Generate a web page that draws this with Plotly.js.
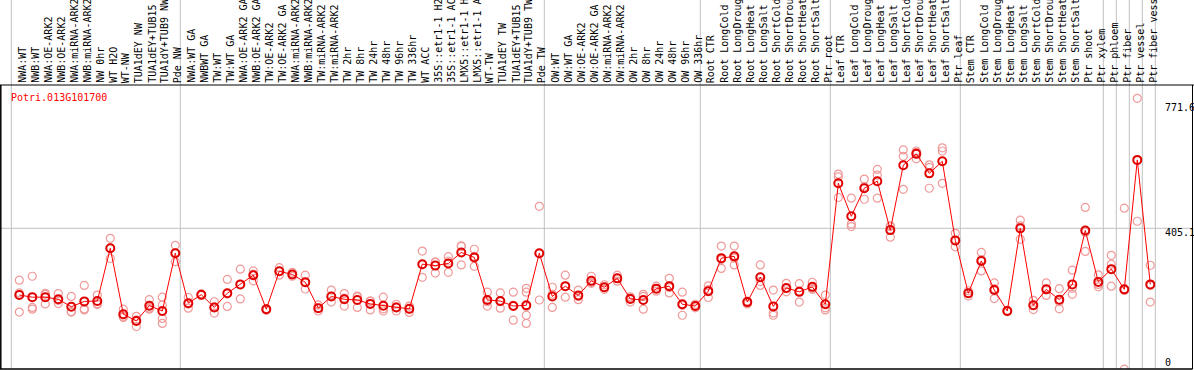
<!DOCTYPE html>
<html>
<head>
<meta charset="utf-8">
<script src="https://cdn.plot.ly/plotly-3.0.1.min.js"></script>
<style>html,body{margin:0;padding:0;background:#fff;}#chart{width:1194px;height:370px;}</style>
</head>
<body>
<div id="chart"></div>
<script>
const geneId = "Potri.013G101700";

const categories = [
  "NWA:WT","NWB:WT","NWA:OE-ARK2","NWB:OE-ARK2","NWA:miRNA-ARK2","NWB:miRNA-ARK2","NW 0hr","WT H2O","WT-NW","TUA1dEY NW","TUA1dEY+TUB15 NW","TUA1dY+TUB9 NW","Pde NW",
  "NWA:WT GA","NWBWT GA","TW:WT","TW:WT GA","NWA:OE-ARK2 GA","NWB:OE-ARK2 GA","TW:OE-ARK2","TW:OE-ARK2 GA","NWA:miRNA-ARK2 GA","NWB:miRNA-ARK2 GA","TW:miRNA-ARK2","TW:miRNA-ARK2 GA","TW 2hr","TW 8hr","TW 24hr","TW 48hr","TW 96hr","TW 336hr","WT ACC","35S::etr1-1 H2O","35S::etr1-1 ACC","LMX5::etr1-1 H2O","LMX5::etr1-1 ACC","WT-TW","TUA1dEY TW","TUA1dEY+TUB15 TW","TUA1dY+TUB9 TW","Pde TW",
  "OW:WT","OW:WT GA","OW:OE-ARK2","OW:OE-ARK2 GA","OW:miRNA-ARK2","OW:miRNA-ARK2 GA","OW 2hr","OW 8hr","OW 24hr","OW 48hr","OW 96hr","OW 336hr",
  "Root CTR","Root LongCold","Root LongDrought","Root LongHeat","Root LongSalt","Root ShortCold","Root ShortDrought","Root ShortHeat","Root ShortSalt","Ptr root",
  "Leaf CTR","Leaf LongCold","Leaf LongDrought","Leaf LongHeat","Leaf LongSalt","Leaf ShortCold","Leaf ShortDrought","Leaf ShortHeat","Leaf ShortSalt","Ptr leaf",
  "Stem CTR","Stem LongCold","Stem LongDrought","Stem LongHeat","Stem LongSalt","Stem ShortCold","Stem ShortDrought","Stem ShortHeat","Stem ShortSalt","Ptr shoot","Ptr xylem","Ptr phloem","Ptr fiber","Ptr vessel","Ptr fiber vessel"
];

const means = [
  217,211,211,205,184,199,200,349,163,144,187,172,335,
  194,218,182,222,247,273,177,284,275,253,180,213,205,203,192,187,182,178,304,300,306,337,323,203,200,186,188,335,
  213,242,216,257,239,264,206,203,235,242,191,186,
  228,321,326,197,267,185,237,226,240,191,
  532,439,518,538,400,583,615,560,594,371,
  222,313,231,172,405,188,233,204,247,399,254,290,233,598,247
];

const replicates = [
  [259,223,169],[270,182,177],[222,219,192],[221,202,193],[213,170,169],[244,178,175],[217,193,190],[377,349,320],[177,157,154],[157,147,128],[204,180,177],[211,189,151,137],[357,336,311],
  [210,192,180],[220,218,216],[198,184,166],[261,220,185],[290,246,206],[285,276,257],[179,177,174],[294,284,273],[281,276,270],[273,252,234],[189,180,172],[231,213,197],[221,208,186],[214,212,182],[200,200,175],[211,178,172],[191,184,172],[186,178,168],[341,303,267],[310,310,279],[325,313,281],[356,354,302],[346,326,298],[225,198,186],[223,198,180],[225,188,146],[236,225,185,160,137],[467,334,203],
  [239,219,182],[273,241,211],[231,213,204],[270,252,250],[246,238,233],[273,264,256],[212,208,197],[219,213,177],[242,235,228],[264,238,223],[225,188,160],[191,186,181],
  [243,232,210],[355,317,292],[355,321,302],[200,197,192],[302,255,244],[231,166,160],[250,235,226],[249,228,197],[253,236,233],[217,181,175],
  [558,550,492],[490,417,410],[544,523,487],[571,555,490],[412,410,380],[626,608,515],[623,619,601],[584,577,518],[632,623,532],[391,370,353],
  [229,222,214],[337,317,285],[251,235,207],[174,172,170],[428,412,374],[202,187,176],[251,233,216],[235,198,178],[287,236,219],[464,394,340],[274,247,240],[329,304,242],[462,230,8],[771.6,596,425],[301,244,197]
];

// indices where a new sample group starts (vertical separators)
const groupStarts = [0,13,41,53,63,73,84,85,86,87,88];

const scaleLabels = ["771.6","405.1","0"];
const gridValue = 405.1;

// ---- build traces ----
const idx = categories.map((_, i) => i);
const repX = [], repY = [];
replicates.forEach((arr, i) => arr.forEach(v => { repX.push(i); repY.push(v); }));

const traces = [
  {
    x: repX, y: repY, type: 'scatter', mode: 'markers',
    marker: {symbol: 'circle-open', size: 8, color: '#f09a9a', line: {width: 1.2, color: '#f09a9a'}},
    hoverinfo: 'skip', showlegend: false
  },
  {
    x: idx, y: means, type: 'scatter', mode: 'lines+markers',
    line: {color: '#ff0000', width: 1},
    marker: {symbol: 'circle-open', size: 8, color: '#e00000', line: {width: 2, color: '#e00000'}},
    showlegend: false
  }
];

const W = 1194, H = 370, T = 85, B = 1;
const plotH = H - T - B;
const xr = [-19.3 / 13, (W - 19.3) / 13];
const yr = [(372 - (H - B)) / 0.3547, (372 - T) / 0.3547];

const shapes = [];
groupStarts.forEach(k => {
  shapes.push({type: 'line', xref: 'x', yref: 'paper', x0: k - 0.615, x1: k - 0.615, y0: 0, y1: 1 + T / plotH,
    line: {color: '#c0c0c0', width: 1}, layer: 'below'});
});
shapes.push({type: 'line', xref: 'paper', yref: 'y', x0: 0, x1: 1192.5 / W, y0: gridValue, y1: gridValue,
  line: {color: '#c0c0c0', width: 1}, layer: 'below'});
// frame
shapes.push({type: 'line', xref: 'paper', yref: 'paper', x0: 0, x1: 1, y0: 1, y1: 1, line: {color: '#000', width: 1}});
shapes.push({type: 'line', xref: 'paper', yref: 'paper', x0: 0.8 / W, x1: 0.8 / W, y0: 0, y1: 1, line: {color: '#000', width: 1.5}});
shapes.push({type: 'line', xref: 'paper', yref: 'paper', x0: 1192.5 / W, x1: 1192.5 / W, y0: 0, y1: 1, line: {color: '#000', width: 1}});
shapes.push({type: 'line', xref: 'paper', yref: 'paper', x0: 0, x1: 1192.5 / W, y0: 0, y1: 0, line: {color: '#000', width: 1.5}});

const mono = {family: 'DejaVu Sans Mono, monospace', size: 10, color: '#000'};
const annotations = categories.map((c, i) => ({
  x: i, xref: 'x', y: 1, yref: 'paper', yanchor: 'bottom', xanchor: 'center', yshift: 1, xshift: 2.5,
  text: c.slice(0, 14), textangle: -90, showarrow: false, font: mono, borderpad: 0
}));
annotations.push({x: 9.5 / W, xref: 'paper', y: (H - B - 97) / plotH, yref: 'paper', xanchor: 'left', yanchor: 'middle',
  text: geneId, showarrow: false, font: Object.assign({}, mono, {color: '#ff0000'}), borderpad: 0});
const labelPx = [107, 232, 362];
scaleLabels.forEach((t, k) => {
  annotations.push({x: 1163.5 / W, xref: 'paper', y: (H - B - labelPx[k]) / plotH, yref: 'paper', xanchor: 'left', yanchor: 'middle',
    text: t, showarrow: false, font: mono, borderpad: 0});
});

const layout = {
  width: W, height: H,
  margin: {l: 0, r: 0, t: T, b: B, pad: 0},
  paper_bgcolor: '#fff', plot_bgcolor: '#fff',
  xaxis: {range: xr, visible: false, fixedrange: true},
  yaxis: {range: yr, visible: false, fixedrange: true},
  shapes: shapes, annotations: annotations, showlegend: false
};

Plotly.newPlot('chart', traces, layout, {displayModeBar: false, staticPlot: true});
</script>
</body>
</html>
